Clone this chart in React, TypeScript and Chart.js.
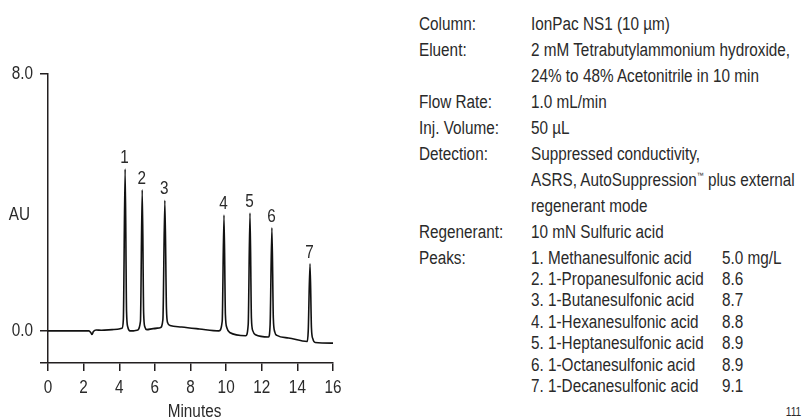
import React, { useEffect, useRef } from 'react';
import { Chart, registerables } from 'chart.js';

Chart.register(...registerables);

// ---------- data ----------
const traceMinutes = [
  0, 2.3, 2.4, 2.47, 2.55, 2.7, 3.0, 3.6, 3.9, 4.15, 4.23, 4.33, 4.41, 4.48, 4.6, 4.8,
  5.0, 5.19, 5.29, 5.37, 5.44, 5.55, 5.9, 6.3, 6.45, 6.56, 6.65, 6.72, 6.85, 7.5, 8.5,
  9.6, 9.78, 9.88, 9.96, 10.04, 10.2, 11.1, 11.24, 11.34, 11.42, 11.5, 11.65, 12.38,
  12.47, 12.57, 12.65, 12.73, 12.85, 13.5, 14.55, 14.61, 14.71, 14.79, 14.87, 15.0, 16.0,
];
const traceAU = [
  0, 0, -0.05, -0.11, -0.02, 0.03, 0.02, 0.04, 0.05, 0.08, 0.35, 5.04, 0.6, 0.12, 0.0, 0.0,
  0.02, 0.3, 4.39, 0.55, 0.12, 0.04, 0.07, 0.1, 0.35, 4.07, 0.7, 0.25, 0.17, 0.12, 0.06,
  0.0, 0.3, 3.61, 0.5, 0.1, -0.05, -0.15, 0.2, 3.67, 0.4, 0.0, -0.12, -0.19,
  0.2, 3.21, 0.4, -0.03, -0.14, -0.22, -0.33, 0.0, 2.09, 0.1, -0.25, -0.36, -0.38,
];

const peakNumbers = ['1', '2', '3', '4', '5', '6', '7'];
const peakMinutes = [4.33, 5.29, 6.56, 9.88, 11.34, 12.57, 14.71];
const peakHeights = [5.04, 4.39, 4.07, 3.61, 3.67, 3.21, 2.09];

const xTickValues = [0, 2, 4, 6, 8, 10, 12, 14, 16];
const yTickValues = [-1, 0, 8];
const yTickLabels = ['', '0.0', '8.0'];
const xAxisTitle = 'Minutes';
const yAxisTitle = 'AU';

const conditionLabels = ['Column:', 'Eluent:', '', 'Flow Rate:', 'Inj. Volume:', 'Detection:', '', '', 'Regenerant:', 'Peaks:'];
const conditionValues = [
  'IonPac NS1 (10 µm)',
  '2 mM Tetrabutylammonium hydroxide,',
  '24% to 48% Acetonitrile in 10 min',
  '1.0 mL/min',
  '50 µL',
  'Suppressed conductivity,',
  'ASRS, AutoSuppression™ plus external',
  'regenerant mode',
  '10 mN Sulfuric acid',
];
const peakNames = [
  '1. Methanesulfonic acid',
  '2. 1-Propanesulfonic acid',
  '3. 1-Butanesulfonic acid',
  '4. 1-Hexanesulfonic acid',
  '5. 1-Heptanesulfonic acid',
  '6. 1-Octanesulfonic acid',
  '7. 1-Decanesulfonic acid',
];
const peakConcentrations = ['5.0 mg/L', '8.6', '8.7', '8.8', '8.9', '8.9', '9.1'];
const pageNumber = '111';

// ---------- styles ----------
const FONT = "'Liberation Sans', Arial, sans-serif";
const NARROW = 0.85;
const TEXT = '#2a2a2a';
const AXIS = '#231f20';

function narrowText(ctx: CanvasRenderingContext2D, text: string, x: number, y: number) {
  ctx.save();
  ctx.translate(x, y);
  ctx.scale(NARROW, 1);
  ctx.fillText(text, 0, 0);
  ctx.restore();
}

const annotate = {
  id: 'annotate',
  afterDraw(chart: any) {
    const { ctx } = chart;
    const x = chart.scales.x;
    const y = chart.scales.y;
    ctx.save();
    ctx.fillStyle = TEXT;
    ctx.font = `18px ${FONT}`;
    ctx.textBaseline = 'middle';
    ctx.textAlign = 'center';
    peakNumbers.forEach((n, i) => {
      narrowText(ctx, n, x.getPixelForValue(peakMinutes[i]) - 0.5, y.getPixelForValue(peakHeights[i]) - 11);
    });
    x.ticks.forEach((t: any) => {
      narrowText(ctx, String(t.value), x.getPixelForValue(t.value), x.top + 25);
    });
    narrowText(ctx, xAxisTitle, (x.left + x.right) / 2 + 4, chart.height - 7);
    ctx.textAlign = 'right';
    y.ticks.forEach((t: any, i: number) => {
      narrowText(ctx, yTickLabels[i], y.right - 15, y.getPixelForValue(t.value));
    });
    narrowText(ctx, yAxisTitle, 30, (y.top + y.bottom) / 2 - 3);
    ctx.restore();
  },
};

function ChromChart() {
  const ref = useRef<HTMLCanvasElement | null>(null);
  useEffect(() => {
    if (!ref.current) return;
    const points = traceMinutes.map((t, i) => ({ x: t, y: traceAU[i] }));
    const chart = new Chart(ref.current, {
      type: 'line',
      data: {
        datasets: [
          {
            data: points,
            borderColor: '#111',
            borderWidth: 1.6,
            pointRadius: 0,
            fill: false,
            cubicInterpolationMode: 'monotone',
          } as any,
        ],
      },
      options: {
        responsive: false,
        animation: false,
        layout: { padding: { top: 74, right: 27, left: 0, bottom: 0 } },
        plugins: { legend: { display: false }, tooltip: { enabled: false } },
        scales: {
          x: {
            type: 'linear',
            min: 0,
            max: 16,
            afterBuildTicks: (s: any) => {
              s.ticks = xTickValues.map((v) => ({ value: v }));
            },
            afterFit: (s: any) => {
              s.height = 56;
            },
            ticks: { display: false, autoSkip: false },
            grid: { display: true, drawOnChartArea: false, drawTicks: true, tickLength: 8, color: AXIS, lineWidth: 1.5 },
            border: { display: true, color: AXIS, width: 1.5 },
          },
          y: {
            type: 'linear',
            min: -1,
            max: 8,
            afterBuildTicks: (s: any) => {
              s.ticks = yTickValues.map((v) => ({ value: v }));
            },
            afterFit: (s: any) => {
              s.width = 48;
            },
            ticks: { display: false, autoSkip: false },
            grid: { display: true, drawOnChartArea: false, drawTicks: true, tickLength: 8, color: AXIS, lineWidth: 1.5 },
            border: { display: true, color: AXIS, width: 1.5 },
          },
        },
      },
      plugins: [annotate],
    });
    return () => chart.destroy();
  }, []);
  return <canvas ref={ref} width={360} height={419} style={{ width: 360, height: 419, display: 'block' }} />;
}

function withSmallTM(t: string) {
  const parts = t.split('™');
  if (parts.length === 1) return t;
  return (
    <>
      {parts[0]}
      <span style={{ fontSize: 8, verticalAlign: 'top', lineHeight: '12px' }}>™</span>
      {parts[1]}
    </>
  );
}

export default function App() {
  const textStyle: React.CSSProperties = {
    position: 'absolute',
    fontFamily: FONT,
    fontSize: 18,
    lineHeight: '20px',
    color: TEXT,
    whiteSpace: 'nowrap',
    transform: `scaleX(${NARROW})`,
    transformOrigin: 'left center',
  };
  const condTop = 23.5;
  const condStep = 26;
  const peakStep = 21.4;
  const peaksTop = condTop + condStep * 9;
  return (
    <div style={{ position: 'absolute', left: 0, top: 0, width: 802, height: 419, background: '#fff', overflow: 'hidden' }}>
      <div style={{ position: 'absolute', left: 0, top: 0 }}>
        <ChromChart />
      </div>
      {conditionLabels.map((t, i) =>
        t ? (
          <div key={'l' + i} style={{ ...textStyle, left: 419, top: condTop + condStep * i - 10 }}>
            {t}
          </div>
        ) : null
      )}
      {conditionValues.map((t, i) => (
        <div key={'v' + i} style={{ ...textStyle, left: 531, top: condTop + condStep * i - 10 }}>
          {withSmallTM(t)}
        </div>
      ))}
      {peakNames.map((t, i) => (
        <div key={'p' + i} style={{ ...textStyle, left: 531, top: peaksTop + peakStep * i - 10 }}>
          {t}
        </div>
      ))}
      {peakConcentrations.map((t, i) => (
        <div key={'c' + i} style={{ ...textStyle, left: 722, top: peaksTop + peakStep * i - 10 }}>
          {t}
        </div>
      ))}
      <div
        style={{
          ...textStyle,
          fontSize: 12,
          lineHeight: '14px',
          left: 'auto',
          right: 1,
          top: 405,
          transformOrigin: 'right center',
        }}
      >
        {pageNumber}
      </div>
    </div>
  );
}
